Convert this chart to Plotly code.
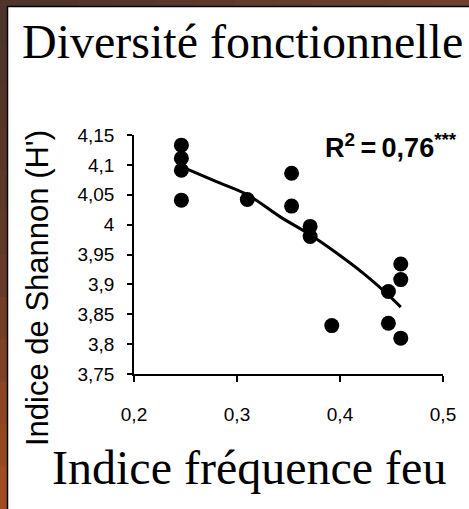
import plotly.graph_objects as go

# Data
fire_index = [0.246, 0.246, 0.246, 0.246, 0.310, 0.353, 0.353, 0.371, 0.371,
              0.392, 0.447, 0.447, 0.459, 0.459, 0.459]
shannon = [4.133, 4.111, 4.091, 4.041, 4.042, 4.086, 4.031, 3.997, 3.980,
           3.831, 3.888, 3.835, 3.934, 3.908, 3.810]

trend_x = [0.246, 0.280, 0.310, 0.342, 0.371, 0.397, 0.423, 0.447, 0.459]
trend_y = [4.097, 4.072, 4.050, 4.013, 3.983, 3.952, 3.918, 3.882, 3.862]

x_ticks = [0.2, 0.3, 0.4, 0.5]
x_tick_labels = ["0,2", "0,3", "0,4", "0,5"]
y_ticks = [3.75, 3.8, 3.85, 3.9, 3.95, 4.0, 4.05, 4.1, 4.15]
y_tick_labels = ["3,75", "3,8", "3,85", "3,9", "3,95", "4", "4,05", "4,1", "4,15"]

title_text = "Diversité fonctionnelle"
x_title = "Indice fréquence feu"
y_title = "Indice de Shannon (H')"
r2_text = "R<sup>2</sup>\u2009=\u20090,76<sup>***</sup>"

W, H = 469, 509
ML, MR, MT, MB = 134, 26, 135, 135
PW, PH = W - ML - MR, H - MT - MB

SANS = "Liberation Sans Narrow, Arial Narrow, Liberation Sans, Arial"
SERIF = "Liberation Serif, Times New Roman, serif"

fig = go.Figure()
fig.add_trace(go.Scatter(x=trend_x, y=trend_y, mode="lines",
                         line=dict(color="black", width=3, shape="spline"),
                         hoverinfo="skip", showlegend=False))
fig.add_trace(go.Scatter(x=fire_index, y=shannon, mode="markers",
                         marker=dict(color="black", size=15),
                         showlegend=False))

def px_x(p):
    return (p - ML) / PW

def px_y(p):
    return (H - MB - p) / PH

# frame decoration (brown gradient bands with black inner line)
def lerp(c1, c2, t):
    return "rgb(%d,%d,%d)" % tuple(round(a + (b - a) * t) for a, b in zip(c1, c2))

shapes = []
top_l, top_r = (78, 52, 42), (112, 64, 46)
n = 12
for i in range(n):
    shapes.append(dict(type="rect", xref="paper", yref="paper", layer="above",
                       x0=px_x(i * W / n), x1=px_x((i + 1) * W / n + 1),
                       y0=px_y(0), y1=px_y(6), line=dict(width=0),
                       fillcolor=lerp(top_l, top_r, i / (n - 1))))
left_t, left_m, left_b = (78, 52, 42), (98, 56, 40), (162, 76, 34)
for i in range(n):
    t = i / (n - 1)
    col = lerp(left_t, left_m, t * 2) if t < 0.5 else lerp(left_m, left_b, (t - 0.5) * 2)
    shapes.append(dict(type="rect", xref="paper", yref="paper", layer="above",
                       x0=px_x(0), x1=px_x(7),
                       y0=px_y(i * H / n), y1=px_y((i + 1) * H / n + 1),
                       line=dict(width=0), fillcolor=col))
shapes.append(dict(type="line", xref="paper", yref="paper", layer="above",
                   x0=px_x(7), x1=px_x(W), y0=px_y(6.5), y1=px_y(6.5),
                   line=dict(color="black", width=1.5)))
shapes.append(dict(type="line", xref="paper", yref="paper", layer="above",
                   x0=px_x(7.5), x1=px_x(7.5), y0=px_y(6), y1=px_y(H),
                   line=dict(color="black", width=1.5)))

annotations = [
    dict(text=title_text, xref="paper", yref="paper", x=px_x(242.5), y=px_y(41),
         xanchor="center", yanchor="middle", showarrow=False,
         font=dict(family=SERIF, size=48, color="black")),
    dict(text=x_title, xref="paper", yref="paper", x=px_x(249), y=px_y(467),
         xanchor="center", yanchor="middle", showarrow=False,
         font=dict(family=SERIF, size=48, color="black")),
    dict(text=y_title, xref="paper", yref="paper", x=px_x(37), y=px_y(288),
         xanchor="center", yanchor="middle", showarrow=False, textangle=-90,
         font=dict(family="Liberation Sans, Arial", size=31, color="black")),
    dict(text="<b>" + r2_text + "</b>", xref="paper", yref="paper", x=px_x(459), y=px_y(146),
         xanchor="right", yanchor="middle", showarrow=False,
         font=dict(family=SANS, size=27, color="black")),
]

fig.update_layout(
    width=W, height=H,
    margin=dict(l=ML, r=MR, t=MT, b=MB),
    paper_bgcolor="white", plot_bgcolor="white",
    shapes=shapes, annotations=annotations,
    xaxis=dict(range=[0.2, 0.5], tickvals=x_ticks, ticktext=x_tick_labels,
               showgrid=False, zeroline=False, showline=True, linecolor="black",
               linewidth=1.5, ticks="outside", ticklen=6, tickwidth=1.5,
               tickcolor="black", ticklabelstandoff=16,
               tickfont=dict(family=SANS, size=19, color="black")),
    yaxis=dict(range=[3.75, 4.15], tickvals=y_ticks, ticktext=y_tick_labels,
               showgrid=False, zeroline=False, showline=True, linecolor="black",
               linewidth=1.5, ticks="outside", ticklen=5, tickwidth=1.5,
               tickcolor="black", ticklabelstandoff=9,
               tickfont=dict(family=SANS, size=19, color="black")),
)

fig.write_html("out.html")
